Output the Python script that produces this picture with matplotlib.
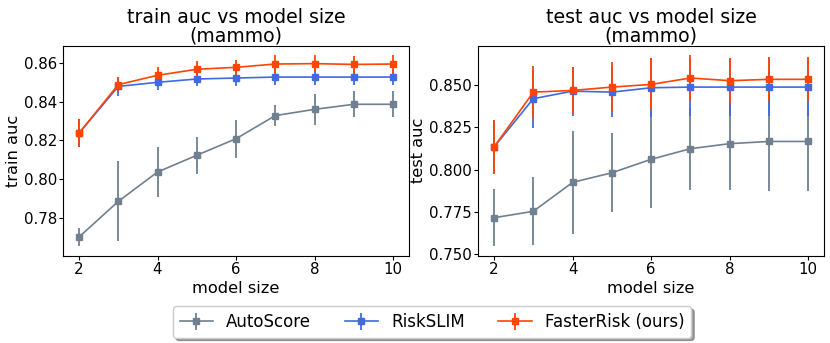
import numpy as np
import matplotlib
matplotlib.use("Agg")
import matplotlib.pyplot as plt

model_sizes = [2, 3, 4, 5, 6, 7, 8, 9, 10]
methods = ["AutoScore", "RiskSLIM", "FasterRisk (ours)"]
colors = ["slategray", "royalblue", "orangered"]

# train auc (mean, std)
train_auto = [0.7704, 0.7887, 0.8038, 0.8124, 0.8209, 0.8328, 0.8360, 0.8386, 0.8386]
train_auto_err = [0.0047, 0.0206, 0.0130, 0.0094, 0.0098, 0.0054, 0.0080, 0.0067, 0.0067]
train_slim = [0.8238, 0.8478, 0.8499, 0.8516, 0.8521, 0.8526, 0.8526, 0.8526, 0.8526]
train_slim_err = [0.0071, 0.0050, 0.0040, 0.0035, 0.0040, 0.0040, 0.0040, 0.0040, 0.0040]
train_fr = [0.8238, 0.8487, 0.8535, 0.8566, 0.8576, 0.8593, 0.8595, 0.8591, 0.8593]
train_fr_err = [0.0072, 0.0040, 0.0043, 0.0043, 0.0040, 0.0045, 0.0043, 0.0042, 0.0044]

# test auc (mean, std)
test_auto = [0.7714, 0.7752, 0.7924, 0.7981, 0.8061, 0.8124, 0.8154, 0.8167, 0.8167]
test_auto_err = [0.0169, 0.0203, 0.0305, 0.0234, 0.0290, 0.0244, 0.0277, 0.0297, 0.0297]
test_slim = [0.8134, 0.8421, 0.8466, 0.8460, 0.8486, 0.8490, 0.8490, 0.8490, 0.8490]
test_slim_err = [0.0160, 0.0172, 0.0146, 0.0148, 0.0175, 0.0170, 0.0170, 0.0170, 0.0170]
test_fr = [0.8134, 0.8460, 0.8470, 0.8490, 0.8506, 0.8544, 0.8528, 0.8536, 0.8536]
test_fr_err = [0.0162, 0.0155, 0.0140, 0.0150, 0.0155, 0.0135, 0.0133, 0.0130, 0.0130]

fig = plt.figure(figsize=(8.3, 3.43), dpi=100)
ax1 = fig.add_axes([0.0763, 0.2545, 0.4161, 0.6122])
ax2 = fig.add_axes([0.5763, 0.2545, 0.4165, 0.6122])

train = [(train_auto, train_auto_err), (train_slim, train_slim_err), (train_fr, train_fr_err)]
test = [(test_auto, test_auto_err), (test_slim, test_slim_err), (test_fr, test_fr_err)]

for ax, data, name in [(ax1, train, "train"), (ax2, test, "test")]:
    for (vals, errs), label, c in zip(data, methods, colors):
        ax.errorbar(model_sizes, vals, yerr=errs, color=c, marker="s",
                    markersize=4.5, linewidth=1.2, elinewidth=1.3, label=label)
    ax.set_title(f"{name} auc vs model size\n(mammo)", fontsize=13.6,
                 linespacing=0.95, pad=3)
    ax.set_xlabel("model size", fontsize=11.7, labelpad=3)
    ax.set_ylabel(f"{name} auc", fontsize=11.7, labelpad=2)
    ax.set_xticks([2, 4, 6, 8, 10])
    ax.tick_params(labelsize=10.8, length=3, pad=1.5)

ax1.set_yticks([0.78, 0.80, 0.82, 0.84, 0.86])
ax1.set_yticklabels(["0.78", "0.80", "0.82", "0.84", "0.86"])
ax2.set_yticks([0.75, 0.775, 0.8, 0.825, 0.85])
ax2.set_yticklabels(["0.750", "0.775", "0.800", "0.825", "0.850"])

handles, labels = ax1.get_legend_handles_labels()
fig.legend(handles, labels, loc="lower center", ncol=3, fontsize=12,
           bbox_to_anchor=(0.5207, 0.0155), borderaxespad=0, shadow=True)

fig.savefig("out.png", dpi=100)
